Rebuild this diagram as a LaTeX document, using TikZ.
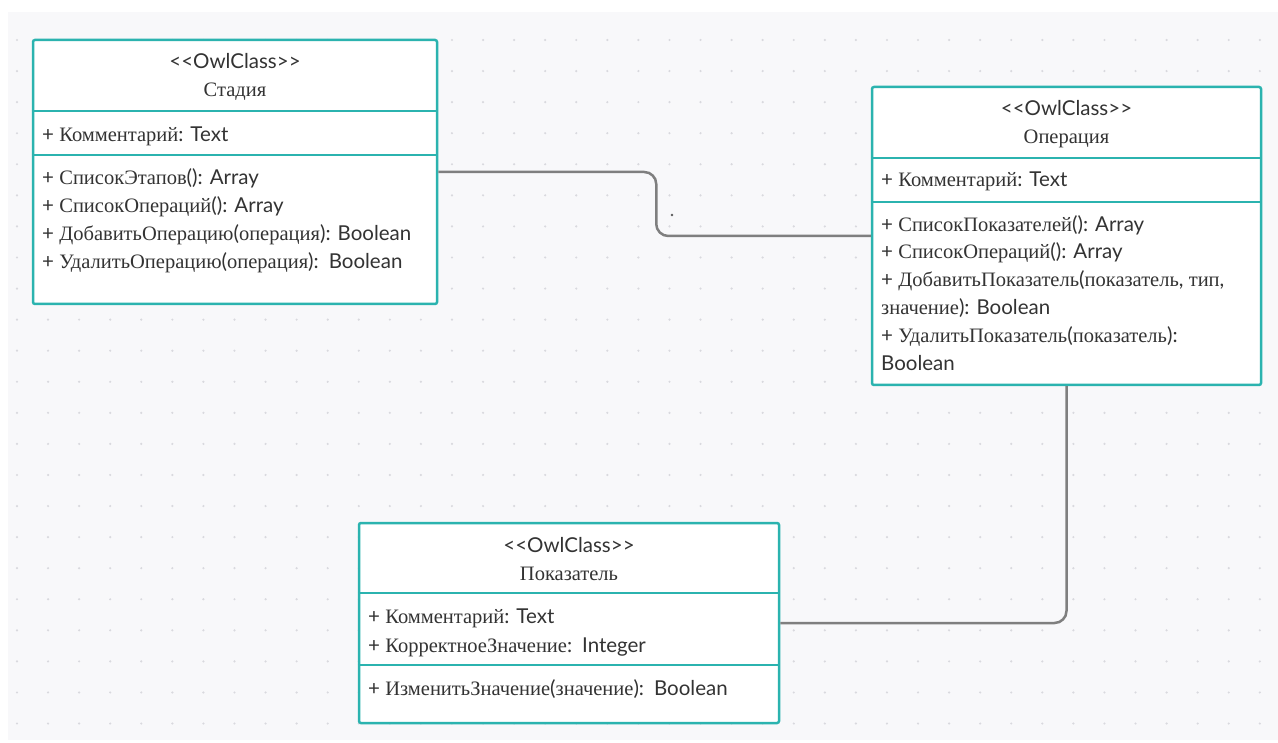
\documentclass[tikz,border=0pt]{standalone}
\usepackage{fontspec}
\setmainfont{Lato}
\newfontfamily\serifru{Liberation Serif}
\newcommand{\ru}[1]{{\serifru #1}}
\definecolor{owlteal}{HTML}{2BB3AF}
\definecolor{linkgray}{HTML}{7F7F7F}
\definecolor{txtgray}{HTML}{333333}
\definecolor{bggray}{HTML}{F8F8FA}
\definecolor{dotgray}{HTML}{D9D9DE}
\tikzset{
  owlbox/.style={draw=owlteal, line width=2.5pt, fill=white, rounded corners=2pt, inner sep=0pt},
  sep/.style={draw=owlteal, line width=2.5pt},
  txt/.style={anchor=base west, inner sep=0pt, text=txtgray, font=\fontsize{20.5}{24}\selectfont},
  head/.style={anchor=base, inner sep=0pt, text=txtgray, font=\fontsize{20.5}{24}\selectfont},
  link/.style={draw=linkgray, line width=2.5pt, rounded corners=12pt},
}
\newcommand{\owl}{<{}<OwlClass>{}>}
\begin{document}
\begin{tikzpicture}[x=1pt, y=-1pt]
	\useasboundingbox (0,0) rectangle (1278,743);
	\fill[bggray] (8,12) rectangle (1278,740);
	\foreach \i in {0,...,40}
		\foreach \j in {0,...,22}
			\fill[dotgray] ({17+31.07*\i},{40+31.07*\j}) circle (1.2pt);

	% Стадия
	\node[owlbox, minimum width=404pt, minimum height=264pt] (stadia) at (235,172) {};
	\draw[sep] (stadia.west |- 0,111) -- (stadia.east |- 0,111);
	\draw[sep] (stadia.west |- 0,155) -- (stadia.east |- 0,155);
	\node[head] (st-h1) at (235,69) {\owl};
	\node[head] (st-h2) at (235,97) {\ru{Стадия}};
	\node[txt] (st-a1) at (42,142) {+ \ru{Комментарий}: Text};
	\node[txt] (st-m1) at (42,185) {+ \ru{СписокЭтапов}(): Array};
	\node[txt] (st-m2) at (42,213) {+ \ru{СписокОпераций}(): Array};
	\node[txt] (st-m3) at (42,241) {+ \ru{ДобавитьОперацию}(\ru{операция}): Boolean};
	\node[txt] (st-m4) at (42,269) {+ \ru{УдалитьОперацию}(\ru{операция}):\hspace{3pt} Boolean};

	% Операция
	\node[owlbox, minimum width=389pt, minimum height=298pt] (operacia) at (1066.5,236) {};
	\draw[sep] (operacia.west |- 0,158) -- (operacia.east |- 0,158);
	\draw[sep] (operacia.west |- 0,202) -- (operacia.east |- 0,202);
	\node[head] (op-h1) at (1066.5,116) {\owl};
	\node[head] (op-h2) at (1066.5,144) {\ru{Операция}};
	\node[txt] (op-a1) at (881,187) {+ \ru{Комментарий}: Text};
	\node[txt] (op-m1) at (881,231.5) {+ \ru{СписокПоказателей}(): Array};
	\node[txt] (op-m2) at (881,259) {+ \ru{СписокОпераций}(): Array};
	\node[txt] (op-m3) at (881,287) {+ \ru{ДобавитьПоказатель}(\ru{показатель}, \ru{тип},};
	\node[txt] (op-m3b) at (881,315) {\ru{значение}): Boolean};
	\node[txt] (op-m4) at (881,343) {+ \ru{УдалитьПоказатель}(\ru{показатель}):};
	\node[txt] (op-m4b) at (881,371) {Boolean};

	% Показатель
	\node[owlbox, minimum width=420pt, minimum height=200pt] (pokazatel) at (569,623) {};
	\draw[sep] (pokazatel.west |- 0,593) -- (pokazatel.east |- 0,593);
	\draw[sep] (pokazatel.west |- 0,665) -- (pokazatel.east |- 0,665);
	\node[head] (pk-h1) at (569,552) {\owl};
	\node[head] (pk-h2) at (569,580) {\ru{Показатель}};
	\node[txt] (pk-a1) at (368,623) {+ \ru{Комментарий}: Text};
	\node[txt] (pk-a2) at (368,652) {+ \ru{КорректноеЗначение}:\hspace{3pt} Integer};
	\node[txt] (pk-m1) at (368,695) {+ \ru{ИзменитьЗначение}(\ru{значение}):\hspace{3pt} Boolean};

	% links
	\draw[link] (stadia.east) -- ++(218,0) |- (operacia.west);
	\draw[link] (operacia.south) |- (pokazatel.east);
	\fill[linkgray!70!black] (672,215) circle (1.3pt);
\end{tikzpicture}
\end{document}
